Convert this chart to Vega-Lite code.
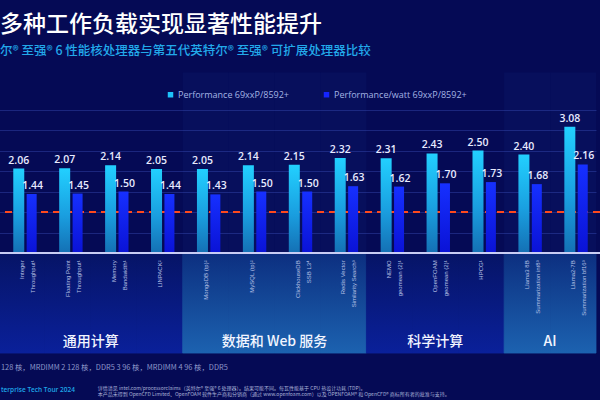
{
  "$schema": "https://vega.github.io/schema/vega-lite/v6.json",
  "width": 600,
  "height": 400,
  "autosize": "none",
  "padding": 0,
  "background": "#050a55",
  "config": {
    "view": {
      "stroke": null,
      "fill": {"gradient": "linear", "x1": 0, "y1": 0, "x2": 1, "y2": 0.45,
        "stops": [{"offset": 0, "color": "#04074a"}, {"offset": 0.6, "color": "#061066"}, {"offset": 1, "color": "#0b1c96"}]}
    },
    "axisX": {"disable": true}
  },
  "datasets": {
    "bars": [
      {"workload": "Integer Throughput", "lines": ["Integer", "Throughput¹"], "group": "通用计算", "perf": 2.06, "ppw": 1.44},
      {"workload": "Floating Point Throughput", "lines": ["Floating Point", "Throughput¹"], "group": "通用计算", "perf": 2.07, "ppw": 1.45},
      {"workload": "Memory Bandwidth", "lines": ["Memory", "Bandwidth¹"], "group": "通用计算", "perf": 2.14, "ppw": 1.50},
      {"workload": "LINPACK", "lines": ["LINPACK²"], "group": "通用计算", "perf": 2.05, "ppw": 1.44},
      {"workload": "MongoDB (tp)", "lines": ["MongoDB (tp)²"], "group": "数据和 Web 服务", "perf": 2.05, "ppw": 1.43},
      {"workload": "MySQL (tp)", "lines": ["MySQL (tp)²"], "group": "数据和 Web 服务", "perf": 2.14, "ppw": 1.50},
      {"workload": "ClickhouseDB SSB L3", "lines": ["ClickhouseDB", "SSB L3⁴"], "group": "数据和 Web 服务", "perf": 2.15, "ppw": 1.50},
      {"workload": "Redis Vector Similarity Search", "lines": ["Redis Vector", "Similarity Search³"], "group": "数据和 Web 服务", "perf": 2.32, "ppw": 1.63},
      {"workload": "NEMO geomean (2)", "lines": ["NEMO", "geomean (2)¹"], "group": "科学计算", "perf": 2.31, "ppw": 1.62},
      {"workload": "OpenFOAM geomean (2)", "lines": ["OpenFOAM", "geomean (2)¹"], "group": "科学计算", "perf": 2.43, "ppw": 1.70},
      {"workload": "HPCG", "lines": ["HPCG¹"], "group": "科学计算", "perf": 2.50, "ppw": 1.73},
      {"workload": "Llama3 8B Summarization int8", "lines": ["Llama3 8B", "Summarization int8³"], "group": "AI", "perf": 2.40, "ppw": 1.68},
      {"workload": "Llama2-7B Summarization bf16", "lines": ["Llama2-7B", "Summarization bf16³"], "group": "AI", "perf": 3.08, "ppw": 2.16}
    ]
  },
  "data": {"name": "bars"},
  "layer": [
    {
      "mark": {"type": "rect", "strokeWidth": 0.8},
      "encoding": {
        "x": {"field": "workload", "type": "nominal", "sort": null, "scale": {"range": [-1, 596], "paddingInner": 0, "paddingOuter": 0}},
        "y": {"datum": 0, "type": "quantitative", "scale": {"domain": [-3.585, 6.171], "nice": false, "zero": false}},
        "y2": {"datum": -2.44},
        "color": {
          "condition": {"test": "datum.group === '数据和 Web 服务' || datum.group === 'AI'",
            "value": {"gradient": "linear", "x1": 0, "y1": 0, "x2": 0, "y2": 1, "stops": [{"offset": 0, "color": "#0c2f80"}, {"offset": 1, "color": "#1c62b0"}]}},
          "value": {"gradient": "linear", "x1": 0, "y1": 0, "x2": 0, "y2": 1, "stops": [{"offset": 0, "color": "#061466"}, {"offset": 1, "color": "#0a209a"}]}
        },
        "stroke": {
          "condition": {"test": "datum.group === '数据和 Web 服务' || datum.group === 'AI'",
            "value": {"gradient": "linear", "x1": 0, "y1": 0, "x2": 0, "y2": 1, "stops": [{"offset": 0, "color": "#0c2f80"}, {"offset": 1, "color": "#1c62b0"}]}},
          "value": {"gradient": "linear", "x1": 0, "y1": 0, "x2": 0, "y2": 1, "stops": [{"offset": 0, "color": "#061466"}, {"offset": 1, "color": "#0a209a"}]}
        }
      }
    },
    {
      "mark": {"type": "rect", "color": "#3060d0"},
      "encoding": {
        "x": {"field": "workload", "type": "nominal", "sort": null},
        "y": {"datum": 0, "type": "quantitative"},
        "y2": {"datum": 4.4},
        "opacity": {"condition": {"test": "datum.group === '数据和 Web 服务' || datum.group === 'AI'", "value": 0.06}, "value": 0}
      }
    },
    {
      "mark": {"type": "rule", "color": "#ff4a1e", "strokeWidth": 1.6, "strokeDash": [7, 5]},
      "encoding": {"y": {"datum": 1, "type": "quantitative"}}
    },
    {
      "mark": {"type": "bar", "width": 11, "xOffset": -3.2,
        "color": {"gradient": "linear", "x1": 0, "y1": 0, "x2": 0, "y2": 1, "stops": [{"offset": 0, "color": "#22d0ff"}, {"offset": 0.55, "color": "#1a9fe0"}, {"offset": 1, "color": "#1470b4"}]}},
      "encoding": {
        "x": {"field": "workload", "type": "nominal", "sort": null},
        "y": {"field": "perf", "type": "quantitative", "title": null,
          "axis": {"values": [0.5, 1, 1.5, 2, 2.5, 3, 3.5], "grid": true, "gridColor": "#2e3ea0", "gridOpacity": 0.55, "labels": false, "ticks": false, "domain": false, "title": null}}
      }
    },
    {
      "mark": {"type": "bar", "width": 10, "xOffset": 9.7,
        "color": {"gradient": "linear", "x1": 0, "y1": 0, "x2": 0, "y2": 1, "stops": [{"offset": 0, "color": "#1630ff"}, {"offset": 1, "color": "#0a12d6"}]}},
      "encoding": {
        "x": {"field": "workload", "type": "nominal", "sort": null},
        "y": {"field": "ppw", "type": "quantitative", "title": null}
      }
    },
    {
      "mark": {"type": "rule", "color": "#c8cdf5", "strokeWidth": 2},
      "encoding": {"y": {"datum": 0, "type": "quantitative"}}
    },
    {
      "mark": {"type": "text", "dx": -3.2, "dy": -5, "baseline": "alphabetic", "font": "Open Sans", "fontWeight": 600, "fontSize": 10.5, "color": "#e8ebff"},
      "encoding": {
        "x": {"field": "workload", "type": "nominal", "sort": null},
        "y": {"field": "perf", "type": "quantitative"},
        "text": {"field": "perf", "type": "quantitative", "format": ".2f"}
      }
    },
    {
      "mark": {"type": "text", "dx": 10.7, "dy": -5, "baseline": "alphabetic", "font": "Open Sans", "fontWeight": 600, "fontSize": 10.5, "color": "#e8ebff"},
      "encoding": {
        "x": {"field": "workload", "type": "nominal", "sort": null},
        "y": {"field": "ppw", "type": "quantitative"},
        "text": {"field": "ppw", "type": "quantitative", "format": ".2f"}
      }
    },
    {
      "mark": {"type": "text", "angle": 270, "align": "right", "baseline": "middle", "dx": -4, "fontSize": 6, "lineHeight": 11, "font": "Liberation Sans", "color": "#b9c2e6"},
      "encoding": {
        "x": {"field": "workload", "type": "nominal", "sort": null},
        "y": {"datum": -0.08, "type": "quantitative"},
        "text": {"field": "lines"}
      }
    },
    {
      "data": {"values": [
        {"group": "通用计算", "anchor": "Floating Point Throughput"},
        {"group": "数据和 Web 服务", "anchor": "MySQL (tp)"},
        {"group": "AI", "anchor": "Llama3 8B Summarization int8"}
      ]},
      "mark": {"type": "text", "align": "center", "baseline": "middle", "font": "Noto Sans CJK SC", "fontSize": 14, "fontWeight": 500, "color": "#f2f5ff"},
      "encoding": {
        "x": {"field": "anchor", "type": "nominal", "sort": null, "bandPosition": 1},
        "y": {"datum": -2.17, "type": "quantitative"},
        "text": {"field": "group"}
      }
    },
    {
      "data": {"values": [{"group": "科学计算", "anchor": "OpenFOAM geomean (2)"}]},
      "mark": {"type": "text", "align": "center", "baseline": "middle", "font": "Noto Sans CJK SC", "fontSize": 14, "fontWeight": 500, "color": "#f2f5ff"},
      "encoding": {
        "x": {"field": "anchor", "type": "nominal", "sort": null, "bandPosition": 0.5},
        "y": {"datum": -2.17, "type": "quantitative"},
        "text": {"field": "group"}
      }
    },
    {
      "data": {"values": [{"text": "多种工作负载实现显著性能提升"}]},
      "mark": {"type": "text", "align": "left", "baseline": "middle", "dx": 1, "font": "Noto Sans CJK SC", "fontSize": 23, "fontWeight": 500, "color": "#ffffff"},
      "encoding": {
        "x": {"datum": "Integer Throughput", "type": "nominal", "bandPosition": 0},
        "y": {"datum": 5.56, "type": "quantitative"},
        "text": {"field": "text"}
      }
    },
    {
      "data": {"values": [{"text": "尔® 至强® 6 性能核处理器与第五代英特尔® 至强® 可扩展处理器比较"}]},
      "mark": {"type": "text", "align": "left", "baseline": "middle", "dx": 1, "font": "Noto Sans CJK SC", "fontSize": 12.5, "fontWeight": 500, "color": "#22a9ea"},
      "encoding": {
        "x": {"datum": "Integer Throughput", "type": "nominal", "bandPosition": 0},
        "y": {"datum": 4.93, "type": "quantitative"},
        "text": {"field": "text"}
      }
    },
    {
      "data": {"values": [{"text": "128 核，MRDIMM  2 128 核，DDR5  3 96 核，MRDIMM  4 96 核，DDR5"}]},
      "mark": {"type": "text", "align": "left", "baseline": "middle", "dx": 2, "font": "Noto Sans CJK SC", "fontSize": 7.4, "color": "#8c96c8"},
      "encoding": {
        "x": {"datum": "Integer Throughput", "type": "nominal", "bandPosition": 0},
        "y": {"datum": -2.805, "type": "quantitative"},
        "text": {"field": "text"}
      }
    },
    {
      "data": {"values": [{"text": "terprise Tech Tour 2024"}]},
      "mark": {"type": "text", "align": "left", "baseline": "middle", "dx": 2, "font": "Open Sans", "fontWeight": 600, "fontSize": 6.5, "color": "#1ea8e8"},
      "encoding": {
        "x": {"datum": "Integer Throughput", "type": "nominal", "bandPosition": 0},
        "y": {"datum": -3.34, "type": "quantitative"},
        "text": {"field": "text"}
      }
    },
    {
      "data": {"values": [{"text": ["详情请见 intel.com/processorclaims（英特尔® 至强® 6 处理器）。结果可能不同。每瓦性能基于 CPU 热设计功耗 (TDP)。", "本产品未得到 OpenCFD Limited、OpenFOAM 软件生产商和分销商（通过 www.openfoam.com）以及 OPENFOAM® 和 OpenCFD® 商标所有者的批准与支持。"]}]},
      "mark": {"type": "text", "align": "left", "baseline": "middle", "dx": 7, "font": "Noto Sans CJK SC", "fontSize": 5, "lineHeight": 6.5, "color": "#aab2d8"},
      "encoding": {
        "x": {"datum": "Memory Bandwidth", "type": "nominal", "bandPosition": 0},
        "y": {"datum": -3.29, "type": "quantitative"},
        "text": {"field": "text"}
      }
    },
    {
      "data": {"values": [{"series": "Performance 69xxP/8592+"}, {"series": "Performance/watt 69xxP/8592+"}]},
      "mark": {"type": "point", "filled": true, "opacity": 0},
      "encoding": {
        "color": {"field": "series", "type": "nominal",
          "scale": {"domain": ["Performance 69xxP/8592+", "Performance/watt 69xxP/8592+"], "range": ["#1ec2fa", "#1424ff"]},
          "legend": {"orient": "none", "legendX": 166, "legendY": 90, "direction": "horizontal", "title": null,
            "symbolType": "square", "symbolSize": 30, "symbolOpacity": 1, "symbolStrokeWidth": 0,
            "labelColor": "#a4b4e4", "labelFontSize": 9, "labelFont": "Open Sans", "columnPadding": 33, "labelOffset": 3}}
      }
    }
  ]
}
